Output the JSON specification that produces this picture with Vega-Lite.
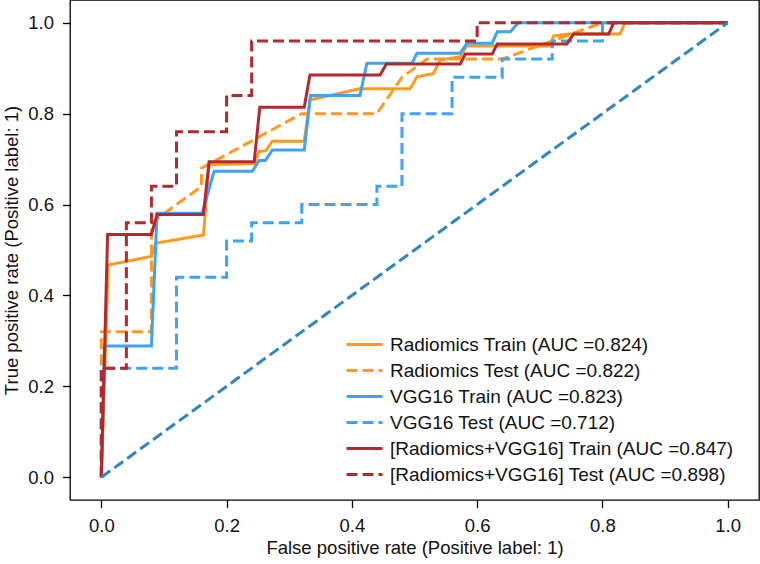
{
 "$schema": "https://vega.github.io/schema/vega-lite/v6.json",
 "width": 689, "height": 500,
 "autosize": "none",
 "padding": {"left": 70, "top": 0, "right": 1, "bottom": 64},
 "background": "white",
 "config": {
  "view": {"stroke": "black", "strokeWidth": 1.3},
  "font": "Liberation Sans",
  "axis": {"grid": false, "domain": false, "tickColor": "black", "tickSize": 7.5, "tickWidth": 1.3, "labelFont": "Liberation Sans", "labelFontSize": 18.5, "labelColor": "#111", "titleFont": "Liberation Sans", "titleFontSize": 18.5, "titleFontWeight": "normal", "titleColor": "#111", "labelPadding": 9},
  "axisX": {"titlePadding": 3},
  "axisY": {"titlePadding": 6},
  "legend": {"symbolType": "M-1.5,0H1.5", "symbolSize": 576, "symbolStrokeWidth": 3, "labelFontSize": 19, "labelFont": "Liberation Sans", "labelColor": "#111", "rowPadding": 2, "labelOffset": 12, "padding": 0, "labelLimit": 500}
 },
 "datasets": {
  "roc": [
   {"s":"Radiomics Train (AUC =0.824)","i":0,"x":0,"y":0},
   {"s":"Radiomics Train (AUC =0.824)","i":1,"x":0.011,"y":0.467},
   {"s":"Radiomics Train (AUC =0.824)","i":2,"x":0.08,"y":0.486},
   {"s":"Radiomics Train (AUC =0.824)","i":3,"x":0.087,"y":0.515},
   {"s":"Radiomics Train (AUC =0.824)","i":4,"x":0.163,"y":0.533},
   {"s":"Radiomics Train (AUC =0.824)","i":5,"x":0.172,"y":0.688},
   {"s":"Radiomics Train (AUC =0.824)","i":6,"x":0.244,"y":0.69},
   {"s":"Radiomics Train (AUC =0.824)","i":7,"x":0.252,"y":0.717},
   {"s":"Radiomics Train (AUC =0.824)","i":8,"x":0.262,"y":0.718},
   {"s":"Radiomics Train (AUC =0.824)","i":9,"x":0.273,"y":0.739},
   {"s":"Radiomics Train (AUC =0.824)","i":10,"x":0.324,"y":0.739},
   {"s":"Radiomics Train (AUC =0.824)","i":11,"x":0.333,"y":0.83},
   {"s":"Radiomics Train (AUC =0.824)","i":12,"x":0.413,"y":0.855},
   {"s":"Radiomics Train (AUC =0.824)","i":13,"x":0.493,"y":0.855},
   {"s":"Radiomics Train (AUC =0.824)","i":14,"x":0.504,"y":0.881},
   {"s":"Radiomics Train (AUC =0.824)","i":15,"x":0.53,"y":0.888},
   {"s":"Radiomics Train (AUC =0.824)","i":16,"x":0.541,"y":0.918},
   {"s":"Radiomics Train (AUC =0.824)","i":17,"x":0.573,"y":0.925},
   {"s":"Radiomics Train (AUC =0.824)","i":18,"x":0.583,"y":0.949},
   {"s":"Radiomics Train (AUC =0.824)","i":19,"x":0.717,"y":0.949},
   {"s":"Radiomics Train (AUC =0.824)","i":20,"x":0.722,"y":0.971},
   {"s":"Radiomics Train (AUC =0.824)","i":21,"x":0.745,"y":0.975},
   {"s":"Radiomics Train (AUC =0.824)","i":22,"x":0.828,"y":0.975},
   {"s":"Radiomics Train (AUC =0.824)","i":23,"x":0.836,"y":1.0},
   {"s":"Radiomics Train (AUC =0.824)","i":24,"x":1,"y":1},
   {"s":"Radiomics Test (AUC =0.822)","i":0,"x":0,"y":0},
   {"s":"Radiomics Test (AUC =0.822)","i":1,"x":0,"y":0.32},
   {"s":"Radiomics Test (AUC =0.822)","i":2,"x":0.08,"y":0.32},
   {"s":"Radiomics Test (AUC =0.822)","i":3,"x":0.08,"y":0.56},
   {"s":"Radiomics Test (AUC =0.822)","i":4,"x":0.16,"y":0.64},
   {"s":"Radiomics Test (AUC =0.822)","i":5,"x":0.16,"y":0.68},
   {"s":"Radiomics Test (AUC =0.822)","i":6,"x":0.32,"y":0.8},
   {"s":"Radiomics Test (AUC =0.822)","i":7,"x":0.44,"y":0.8},
   {"s":"Radiomics Test (AUC =0.822)","i":8,"x":0.48,"y":0.88},
   {"s":"Radiomics Test (AUC =0.822)","i":9,"x":0.52,"y":0.92},
   {"s":"Radiomics Test (AUC =0.822)","i":10,"x":0.64,"y":0.92},
   {"s":"Radiomics Test (AUC =0.822)","i":11,"x":0.8,"y":1.0},
   {"s":"Radiomics Test (AUC =0.822)","i":12,"x":1,"y":1},
   {"s":"VGG16 Train (AUC =0.823)","i":0,"x":0,"y":0},
   {"s":"VGG16 Train (AUC =0.823)","i":1,"x":0.005,"y":0.289},
   {"s":"VGG16 Train (AUC =0.823)","i":2,"x":0.08,"y":0.289},
   {"s":"VGG16 Train (AUC =0.823)","i":3,"x":0.089,"y":0.581},
   {"s":"VGG16 Train (AUC =0.823)","i":4,"x":0.161,"y":0.581},
   {"s":"VGG16 Train (AUC =0.823)","i":5,"x":0.18,"y":0.673},
   {"s":"VGG16 Train (AUC =0.823)","i":6,"x":0.241,"y":0.673},
   {"s":"VGG16 Train (AUC =0.823)","i":7,"x":0.252,"y":0.697},
   {"s":"VGG16 Train (AUC =0.823)","i":8,"x":0.262,"y":0.697},
   {"s":"VGG16 Train (AUC =0.823)","i":9,"x":0.273,"y":0.72},
   {"s":"VGG16 Train (AUC =0.823)","i":10,"x":0.324,"y":0.72},
   {"s":"VGG16 Train (AUC =0.823)","i":11,"x":0.334,"y":0.84},
   {"s":"VGG16 Train (AUC =0.823)","i":12,"x":0.413,"y":0.84},
   {"s":"VGG16 Train (AUC =0.823)","i":13,"x":0.424,"y":0.911},
   {"s":"VGG16 Train (AUC =0.823)","i":14,"x":0.496,"y":0.911},
   {"s":"VGG16 Train (AUC =0.823)","i":15,"x":0.504,"y":0.933},
   {"s":"VGG16 Train (AUC =0.823)","i":16,"x":0.573,"y":0.933},
   {"s":"VGG16 Train (AUC =0.823)","i":17,"x":0.584,"y":0.955},
   {"s":"VGG16 Train (AUC =0.823)","i":18,"x":0.624,"y":0.955},
   {"s":"VGG16 Train (AUC =0.823)","i":19,"x":0.632,"y":0.98},
   {"s":"VGG16 Train (AUC =0.823)","i":20,"x":0.653,"y":0.98},
   {"s":"VGG16 Train (AUC =0.823)","i":21,"x":0.666,"y":1.0},
   {"s":"VGG16 Train (AUC =0.823)","i":22,"x":1,"y":1},
   {"s":"VGG16 Test (AUC =0.712)","i":0,"x":0,"y":0},
   {"s":"VGG16 Test (AUC =0.712)","i":1,"x":0,"y":0.24},
   {"s":"VGG16 Test (AUC =0.712)","i":2,"x":0.12,"y":0.24},
   {"s":"VGG16 Test (AUC =0.712)","i":3,"x":0.12,"y":0.44},
   {"s":"VGG16 Test (AUC =0.712)","i":4,"x":0.2,"y":0.44},
   {"s":"VGG16 Test (AUC =0.712)","i":5,"x":0.2,"y":0.52},
   {"s":"VGG16 Test (AUC =0.712)","i":6,"x":0.24,"y":0.52},
   {"s":"VGG16 Test (AUC =0.712)","i":7,"x":0.24,"y":0.56},
   {"s":"VGG16 Test (AUC =0.712)","i":8,"x":0.32,"y":0.56},
   {"s":"VGG16 Test (AUC =0.712)","i":9,"x":0.32,"y":0.6},
   {"s":"VGG16 Test (AUC =0.712)","i":10,"x":0.44,"y":0.6},
   {"s":"VGG16 Test (AUC =0.712)","i":11,"x":0.44,"y":0.64},
   {"s":"VGG16 Test (AUC =0.712)","i":12,"x":0.48,"y":0.64},
   {"s":"VGG16 Test (AUC =0.712)","i":13,"x":0.48,"y":0.8},
   {"s":"VGG16 Test (AUC =0.712)","i":14,"x":0.56,"y":0.8},
   {"s":"VGG16 Test (AUC =0.712)","i":15,"x":0.56,"y":0.88},
   {"s":"VGG16 Test (AUC =0.712)","i":16,"x":0.64,"y":0.88},
   {"s":"VGG16 Test (AUC =0.712)","i":17,"x":0.64,"y":0.92},
   {"s":"VGG16 Test (AUC =0.712)","i":18,"x":0.72,"y":0.92},
   {"s":"VGG16 Test (AUC =0.712)","i":19,"x":0.72,"y":0.96},
   {"s":"VGG16 Test (AUC =0.712)","i":20,"x":0.8,"y":0.96},
   {"s":"VGG16 Test (AUC =0.712)","i":21,"x":0.8,"y":1.0},
   {"s":"VGG16 Test (AUC =0.712)","i":22,"x":1,"y":1},
   {"s":"[Radiomics+VGG16] Train (AUC =0.847)","i":0,"x":0,"y":0},
   {"s":"[Radiomics+VGG16] Train (AUC =0.847)","i":1,"x":0.01,"y":0.534},
   {"s":"[Radiomics+VGG16] Train (AUC =0.847)","i":2,"x":0.08,"y":0.534},
   {"s":"[Radiomics+VGG16] Train (AUC =0.847)","i":3,"x":0.089,"y":0.578},
   {"s":"[Radiomics+VGG16] Train (AUC =0.847)","i":4,"x":0.163,"y":0.578},
   {"s":"[Radiomics+VGG16] Train (AUC =0.847)","i":5,"x":0.172,"y":0.694},
   {"s":"[Radiomics+VGG16] Train (AUC =0.847)","i":6,"x":0.244,"y":0.694},
   {"s":"[Radiomics+VGG16] Train (AUC =0.847)","i":7,"x":0.253,"y":0.814},
   {"s":"[Radiomics+VGG16] Train (AUC =0.847)","i":8,"x":0.324,"y":0.814},
   {"s":"[Radiomics+VGG16] Train (AUC =0.847)","i":9,"x":0.333,"y":0.885},
   {"s":"[Radiomics+VGG16] Train (AUC =0.847)","i":10,"x":0.445,"y":0.885},
   {"s":"[Radiomics+VGG16] Train (AUC =0.847)","i":11,"x":0.455,"y":0.909},
   {"s":"[Radiomics+VGG16] Train (AUC =0.847)","i":12,"x":0.573,"y":0.909},
   {"s":"[Radiomics+VGG16] Train (AUC =0.847)","i":13,"x":0.581,"y":0.931},
   {"s":"[Radiomics+VGG16] Train (AUC =0.847)","i":14,"x":0.624,"y":0.931},
   {"s":"[Radiomics+VGG16] Train (AUC =0.847)","i":15,"x":0.632,"y":0.953},
   {"s":"[Radiomics+VGG16] Train (AUC =0.847)","i":16,"x":0.743,"y":0.953},
   {"s":"[Radiomics+VGG16] Train (AUC =0.847)","i":17,"x":0.754,"y":0.975},
   {"s":"[Radiomics+VGG16] Train (AUC =0.847)","i":18,"x":0.81,"y":0.975},
   {"s":"[Radiomics+VGG16] Train (AUC =0.847)","i":19,"x":0.818,"y":1.0},
   {"s":"[Radiomics+VGG16] Train (AUC =0.847)","i":20,"x":1,"y":1},
   {"s":"[Radiomics+VGG16] Test (AUC =0.898)","i":0,"x":0,"y":0},
   {"s":"[Radiomics+VGG16] Test (AUC =0.898)","i":1,"x":0,"y":0.24},
   {"s":"[Radiomics+VGG16] Test (AUC =0.898)","i":2,"x":0.04,"y":0.24},
   {"s":"[Radiomics+VGG16] Test (AUC =0.898)","i":3,"x":0.04,"y":0.56},
   {"s":"[Radiomics+VGG16] Test (AUC =0.898)","i":4,"x":0.08,"y":0.56},
   {"s":"[Radiomics+VGG16] Test (AUC =0.898)","i":5,"x":0.08,"y":0.64},
   {"s":"[Radiomics+VGG16] Test (AUC =0.898)","i":6,"x":0.12,"y":0.64},
   {"s":"[Radiomics+VGG16] Test (AUC =0.898)","i":7,"x":0.12,"y":0.76},
   {"s":"[Radiomics+VGG16] Test (AUC =0.898)","i":8,"x":0.2,"y":0.76},
   {"s":"[Radiomics+VGG16] Test (AUC =0.898)","i":9,"x":0.2,"y":0.84},
   {"s":"[Radiomics+VGG16] Test (AUC =0.898)","i":10,"x":0.24,"y":0.84},
   {"s":"[Radiomics+VGG16] Test (AUC =0.898)","i":11,"x":0.24,"y":0.96},
   {"s":"[Radiomics+VGG16] Test (AUC =0.898)","i":12,"x":0.6,"y":0.96},
   {"s":"[Radiomics+VGG16] Test (AUC =0.898)","i":13,"x":0.6,"y":1.0},
   {"s":"[Radiomics+VGG16] Test (AUC =0.898)","i":14,"x":1,"y":1}
  ],
  "diag": [{"x":0,"y":0},{"x":1,"y":1}]
 },
 "layer": [
  {
   "data": {"name": "roc"},
   "mark": {"type": "line", "strokeWidth": 3, "interpolate": "linear", "clip": true},
   "encoding": {
    "x": {"field": "x", "type": "quantitative", "scale": {"domain": [-0.05, 1.05], "nice": false, "zero": false}, "axis": {"values": [0, 0.2, 0.4, 0.6, 0.8, 1.0], "format": ".1f", "title": "False positive rate (Positive label: 1)"}},
    "y": {"field": "y", "type": "quantitative", "scale": {"domain": [-0.05, 1.05], "nice": false, "zero": false}, "axis": {"values": [0, 0.2, 0.4, 0.6, 0.8, 1.0], "format": ".1f", "title": "True positive rate (Positive label: 1)"}},
    "order": {"field": "i", "type": "quantitative"},
    "color": {"field": "s", "type": "nominal",
     "scale": {"domain": ["Radiomics Train (AUC =0.824)", "Radiomics Test (AUC =0.822)", "VGG16 Train (AUC =0.823)", "VGG16 Test (AUC =0.712)", "[Radiomics+VGG16] Train (AUC =0.847)", "[Radiomics+VGG16] Test (AUC =0.898)"],
               "range": ["#FF9A1C", "#FF9A1C", "#3FA2F6", "#3FA2F6", "#B3292D", "#B3292D"]},
     "legend": {"title": null, "orient": "none", "legendX": 281, "legendY": 331}},
    "strokeDash": {"field": "s", "type": "nominal",
     "scale": {"domain": ["Radiomics Train (AUC =0.824)", "Radiomics Test (AUC =0.822)", "VGG16 Train (AUC =0.823)", "VGG16 Test (AUC =0.712)", "[Radiomics+VGG16] Train (AUC =0.847)", "[Radiomics+VGG16] Test (AUC =0.898)"],
               "range": [[1, 0], [11, 5], [1, 0], [11, 5], [1, 0], [11, 5]]},
     "legend": {"title": null, "orient": "none", "legendX": 281, "legendY": 331}}
   }
  },
  {
   "data": {"name": "diag"},
   "mark": {"type": "line", "strokeWidth": 3, "strokeDash": [11, 5], "color": "#2F86C0"},
   "encoding": {
    "x": {"field": "x", "type": "quantitative"},
    "y": {"field": "y", "type": "quantitative"}
   }
  }
 ]
}
